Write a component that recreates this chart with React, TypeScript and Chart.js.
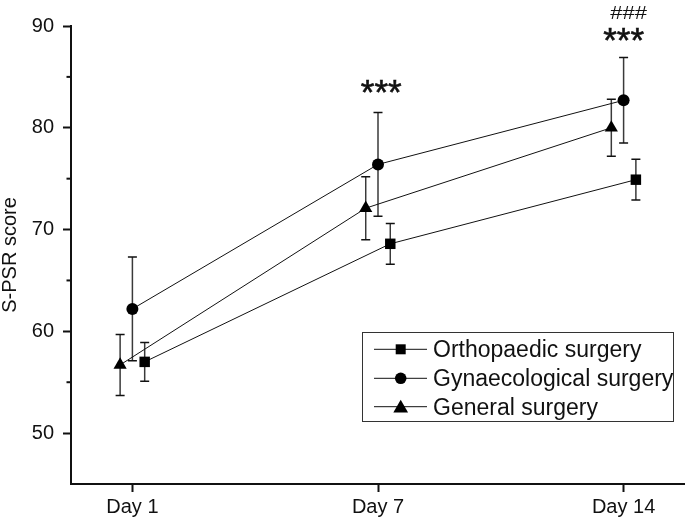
import React, { useEffect, useRef } from 'react';
import { Chart, registerables } from 'chart.js';

Chart.register(...registerables);

const dayLabels = ['Day 1', 'Day 7', 'Day 14'];
const seriesNames = ['Orthopaedic surgery', 'Gynaecological surgery', 'General surgery'];
const orthoMean = [57.0, 68.6, 74.9];
const orthoErr = [1.9, 2.0, 2.0];
const gynMean = [62.2, 76.4, 82.7];
const gynErr = [5.1, 5.1, 4.2];
const genMean = [56.7, 72.1, 80.0];
const genErr = [3.0, 3.1, 2.8];
const annotTexts = ['***', '***', '###'];
const annotDay = [1.013, 2.0, 2.02];
const annotValue = [84.1, 89.2, 91.3];
const minorTicks = [55, 65, 75, 85];

const FONT = "'Liberation Sans', Arial, Helvetica, sans-serif";
const INK = '#111';

type Series = { name: string; mean: number[]; err: number[]; style: string; radius: number; off: number };

const series: Series[] = [
  { name: seriesNames[0], mean: orthoMean, err: orthoErr, style: 'rect', radius: 7.4, off: 0.05 },
  { name: seriesNames[1], mean: gynMean, err: gynErr, style: 'circle', radius: 6, off: 0 },
  { name: seriesNames[2], mean: genMean, err: genErr, style: 'triangle', radius: 7.6, off: -0.05 },
];

const errorBarPlugin = {
  id: 'errorBars',
  beforeDatasetsDraw(chart: any) {
    const { ctx, scales } = chart;
    const xs = scales.x;
    const ys = scales.y;
    ctx.save();
    ctx.lineWidth = 1.5;
    series.forEach((s) => {
      s.mean.forEach((v, i) => {
        const x = xs.getPixelForValue(i + s.off);
        const yt = ys.getPixelForValue(v + s.err[i]);
        const yb = ys.getPixelForValue(v - s.err[i]);
        ctx.strokeStyle = '#3a3a3a';
        ctx.beginPath();
        ctx.moveTo(x, yt);
        ctx.lineTo(x, yb);
        ctx.stroke();
        ctx.strokeStyle = INK;
        ctx.beginPath();
        ctx.moveTo(x - 4.5, yt);
        ctx.lineTo(x + 4.5, yt);
        ctx.moveTo(x - 4.5, yb);
        ctx.lineTo(x + 4.5, yb);
        ctx.stroke();
      });
    });
    ctx.restore();
  },
};

const minorTickPlugin = {
  id: 'minorTicks',
  afterDraw(chart: any) {
    const { ctx, scales, chartArea } = chart;
    ctx.save();
    ctx.strokeStyle = INK;
    ctx.lineWidth = 2;
    minorTicks.forEach((v) => {
      const y = scales.y.getPixelForValue(v);
      ctx.beginPath();
      ctx.moveTo(chartArea.left - 4.5, y);
      ctx.lineTo(chartArea.left, y);
      ctx.stroke();
    });
    ctx.restore();
  },
};

const annotationPlugin = {
  id: 'annotations',
  afterDraw(chart: any) {
    const { ctx, scales } = chart;
    annotTexts.forEach((t, i) => {
      ctx.save();
      ctx.fillStyle = INK;
      ctx.textAlign = 'center';
      ctx.textBaseline = 'alphabetic';
      const isHash = t === '###';
      ctx.font = isHash ? `22px ${FONT}` : `35px ${FONT}`;
      const sy = isHash ? 0.85 : 1;
      const m = ctx.measureText(t);
      const cx = scales.x.getPixelForValue(annotDay[i]);
      const cy = scales.y.getPixelForValue(annotValue[i]);
      ctx.translate(cx, cy);
      ctx.scale(1, sy);
      const base = (m.actualBoundingBoxAscent - m.actualBoundingBoxDescent) / 2;
      ctx.fillText(t, 0, base);
      if (!isHash) {
        ctx.strokeStyle = INK;
        ctx.lineWidth = 0.6;
        ctx.strokeText(t, 0, base);
      }
      ctx.restore();
    });
  },
};

const legendPlugin = {
  id: 'boxLegend',
  afterDraw(chart: any) {
    const { ctx } = chart;
    const box = { x: 362, y: 332, w: 311, h: 89 };
    ctx.save();
    ctx.strokeStyle = '#333';
    ctx.lineWidth = 1;
    ctx.strokeRect(box.x + 0.5, box.y + 0.5, box.w, box.h);
    const rows = [349.3, 378.3, 406.7];
    ctx.font = `23px ${FONT}`;
    ctx.textAlign = 'left';
    ctx.textBaseline = 'alphabetic';
    const mx = 400.7;
    series.forEach((s, i) => {
      const my = rows[i];
      ctx.strokeStyle = INK;
      ctx.lineWidth = 1;
      ctx.beginPath();
      ctx.moveTo(374, my);
      ctx.lineTo(427, my);
      ctx.stroke();
      ctx.fillStyle = '#000';
      ctx.beginPath();
      if (s.style === 'rect') {
        ctx.rect(mx - 5, my - 5, 10, 10);
      } else if (s.style === 'circle') {
        ctx.arc(mx, my, 5.8, 0, Math.PI * 2);
      } else {
        const r = 8.5;
        const c = my + 1.5;
        ctx.moveTo(mx, c - r);
        ctx.lineTo(mx + r * 0.866, c + r * 0.5);
        ctx.lineTo(mx - r * 0.866, c + r * 0.5);
        ctx.closePath();
      }
      ctx.fill();
      ctx.fillStyle = INK;
      ctx.fillText(s.name, 433, my + 8);
    });
    ctx.restore();
  },
};

export default function App() {
  const ref = useRef<HTMLCanvasElement>(null);
  useEffect(() => {
    const canvas = ref.current;
    if (!canvas) return;
    const chart = new Chart(canvas, {
      type: 'line',
      data: {
        datasets: series.map((s) => ({
          label: s.name,
          data: s.mean.map((v, i) => ({ x: i + s.off, y: v })),
          borderColor: INK,
          borderWidth: 1,
          backgroundColor: '#000',
          pointBackgroundColor: '#000',
          pointBorderColor: '#000',
          pointBorderWidth: 0,
          pointStyle: s.style as any,
          pointRadius: s.radius,
          tension: 0,
          fill: false,
          clip: false as any,
        })),
      },
      options: {
        responsive: false,
        animation: false,
        layout: { autoPadding: false, padding: { top: 26, left: 0, right: 0, bottom: 0 } },
        plugins: { legend: { display: false }, tooltip: { enabled: false } },
        scales: {
          x: {
            type: 'linear',
            min: -0.25,
            max: 2.25,
            afterBuildTicks: (s: any) => {
              s.ticks = dayLabels.map((_, i) => ({ value: i }));
            },
            afterFit: (s: any) => {
              s.height = 35;
              s.paddingLeft = 0;
              s.paddingRight = 0;
            },
            grid: { drawOnChartArea: false, drawTicks: true, tickLength: 8, tickWidth: 2, tickColor: INK },
            border: { display: true, color: INK, width: 2 },
            ticks: {
              callback: (v: any) => dayLabels[Math.round(Number(v))] ?? '',
              font: { family: FONT, size: 20 },
              color: INK,
              padding: 3,
              maxRotation: 0,
              autoSkip: false,
            },
          },
          y: {
            type: 'linear',
            min: 45,
            max: 90,
            afterFit: (s: any) => {
              s.width = 71;
              s.paddingTop = 0;
              s.paddingBottom = 0;
            },
            grid: {
              drawOnChartArea: false,
              drawTicks: true,
              tickLength: 8,
              tickWidth: 2,
              tickColor: (c: any) => (c.tick && c.tick.value % 10 === 0 ? INK : 'rgba(0,0,0,0)'),
            },
            border: { display: true, color: INK, width: 2 },
            ticks: {
              stepSize: 5,
              callback: (v: any) => (Number(v) % 10 === 0 ? String(v) : ''),
              font: { family: FONT, size: 20 },
              color: INK,
              padding: 9,
            },
            title: {
              display: true,
              text: 'S-PSR score',
              font: { family: FONT, size: 20, lineHeight: 1 },
              padding: 0,
              color: INK,
            },
          },
        },
      },
      plugins: [errorBarPlugin, minorTickPlugin, annotationPlugin, legendPlugin],
    });
    return () => chart.destroy();
  }, []);
  return (
    <div style={{ position: 'absolute', left: 0, top: 0, width: 685, height: 519, background: '#fff' }}>
      <canvas ref={ref} width={685} height={519} style={{ display: 'block' }} />
    </div>
  );
}
